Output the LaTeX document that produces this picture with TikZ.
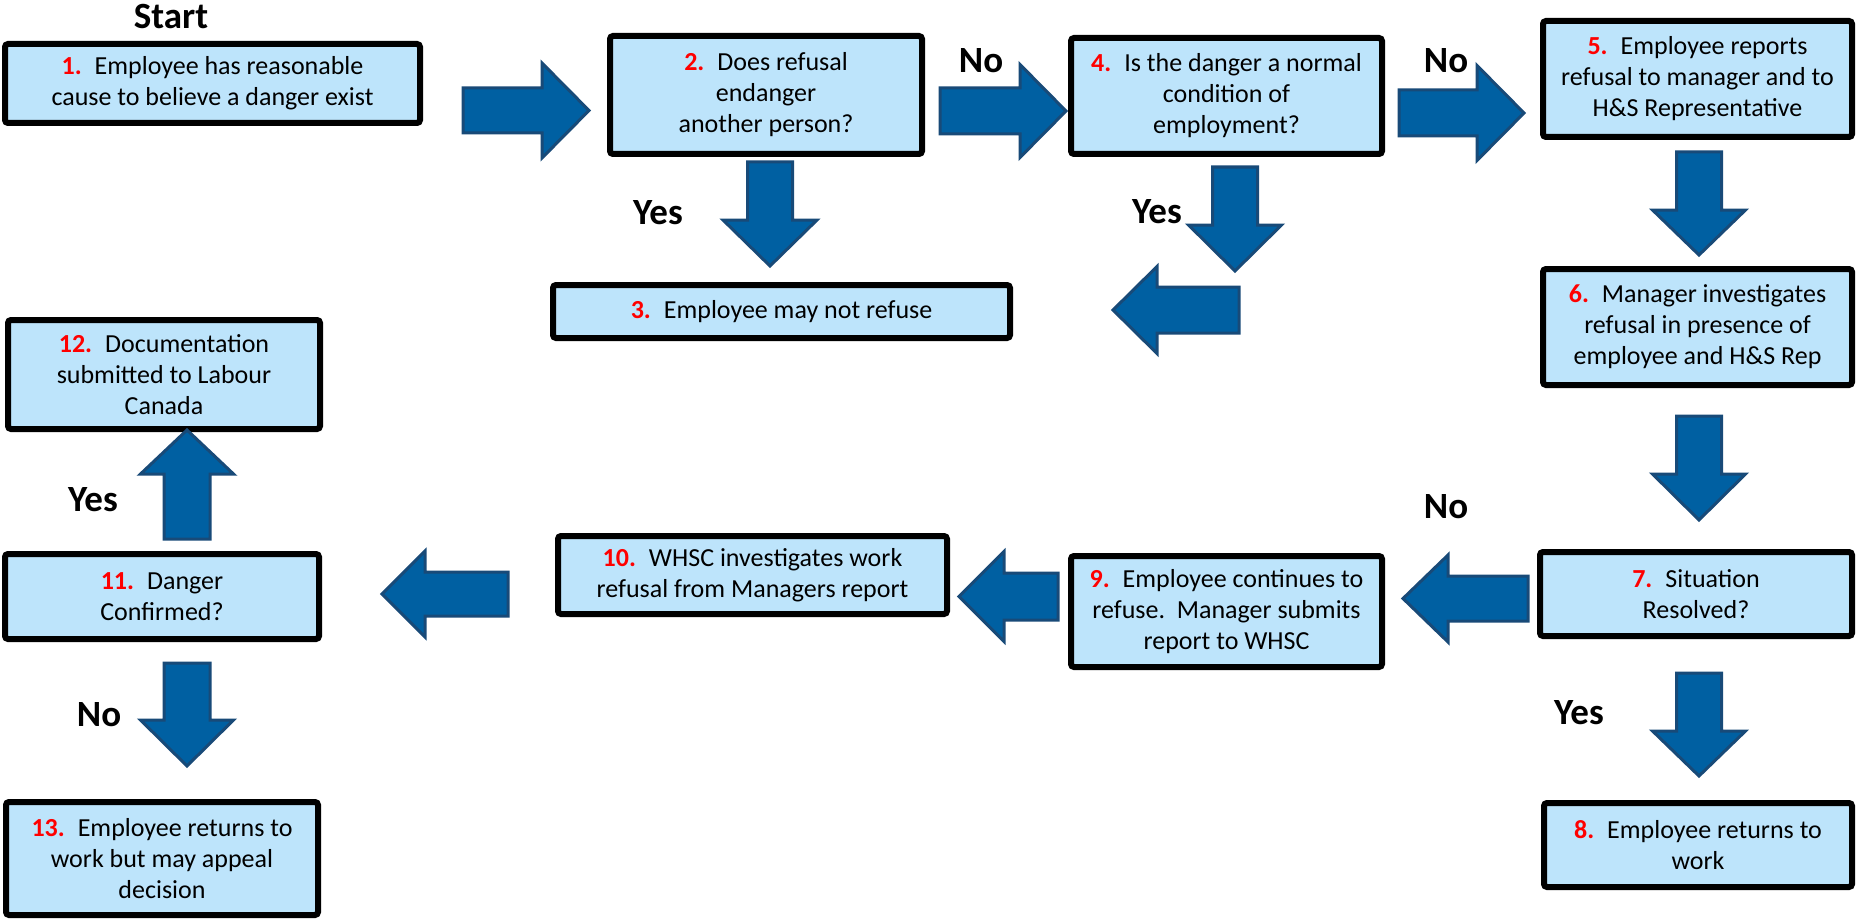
\documentclass[tikz,border=0pt]{standalone}
\usepackage{fontspec}
\setmainfont{Carlito}
\definecolor{boxblue}{RGB}{189,228,251}
\definecolor{arrowblue}{RGB}{0,96,162}
\definecolor{arrowdark}{RGB}{24,74,120}
\definecolor{numred}{RGB}{255,0,0}
\tikzset{
  flow/.style={draw=black, line width=3pt, fill=boxblue, rounded corners=1.5pt,
    inner sep=0pt, align=center, font=\fontsize{13pt}{15.5pt}\selectfont},
  lbl/.style={anchor=base, inner sep=0pt, font=\fontsize{18.5pt}{22pt}\selectfont\bfseries},
  barrow/.style={fill=arrowblue, draw=arrowdark, line width=1.5pt, line join=miter}
}
\newcommand\stepnum[1]{\textcolor{numred}{\textbf{#1}}\hspace{0.5em}}
% name, left, top, right, bottom, text
\newcommand\flowbox[6]{\node[flow, minimum width={(#4-#2-6)*0.5pt}, minimum height={(#5-#3-6)*0.5pt}] (#1) at ({(#2+#4)/2},{(#3+#5)/2}) {#6};}
% x, y (tail centre), angle, length, shaft width, head width, head length
\newcommand\blockarrow[7]{\draw[barrow, shift={(#1,#2)}, rotate=#3] (0,{-#5/2}) -- ({#4-#7},{-#5/2}) -- ({#4-#7},{-#6/2}) -- (#4,0) -- ({#4-#7},{#6/2}) -- ({#4-#7},{#5/2}) -- (0,{#5/2}) -- cycle;}
\begin{document}
\begin{tikzpicture}[x=0.5pt,y=-0.5pt]
\useasboundingbox (0,0) rectangle (1858,920);
% boxes
\flowbox{b1}{2}{41}{423}{126}{\stepnum{1.}Employee has reasonable\\cause to believe a danger exist}
\flowbox{b2}{607}{33}{925}{157}{\stepnum{2.}Does refusal\\endanger\\another person?}
\flowbox{b3}{550}{282}{1013}{341}{\stepnum{3.}Employee may not refuse}
\flowbox{b4}{1068}{35}{1385}{157}{\stepnum{4.}Is the danger a normal\\condition of\\employment?}
\flowbox{b5}{1540}{18}{1855}{140}{\stepnum{5.}Employee reports\\refusal to manager and to\\H\&S Representative}
\flowbox{b6}{1540}{266}{1855}{388}{\stepnum{6.}Manager investigates\\refusal in presence of\\employee and H\&S Rep}
\flowbox{b7}{1537}{549}{1855}{639}{\stepnum{7.}Situation\\Resolved?}
\flowbox{b8}{1541}{800}{1855}{890}{\stepnum{8.}Employee returns to\\work}
\flowbox{b9}{1068}{553}{1385}{670}{\stepnum{9.}Employee continues to\\refuse.\ \ Manager submits\\report to WHSC}
\flowbox{b10}{555}{533}{950}{617}{\stepnum{10.}WHSC investigates work\\refusal from Managers report}
\flowbox{b11}{2}{551}{322}{642}{\stepnum{11.}Danger\\Confirmed?}
\flowbox{b12}{5}{317}{323}{432}{\stepnum{12.}Documentation\\submitted to Labour\\Canada}
\flowbox{b13}{3}{799}{321}{918}{\stepnum{13.}Employee returns to\\work but may appeal\\decision}
% block arrows
\blockarrow{463}{110.5}{0}{126}{45}{95}{47}
\blockarrow{940}{111}{0}{126}{46}{93}{46}
\blockarrow{1399}{113}{0}{125}{46}{95}{47}
\blockarrow{770}{162}{-90}{104}{45}{94}{46}
\blockarrow{1235}{167}{-90}{104}{45}{93}{46}
\blockarrow{1239}{310}{180}{126}{46}{87}{44}
\blockarrow{1699}{152}{-90}{103}{45}{93}{45}
\blockarrow{1699}{416}{-90}{104}{45}{93}{46}
\blockarrow{1528}{598.5}{180}{125}{45}{87}{45}
\blockarrow{1699}{673}{-90}{103}{45}{93}{45}
\blockarrow{1058}{596.5}{180}{99}{47}{90}{45}
\blockarrow{508}{594}{180}{126}{44}{86}{43}
\blockarrow{187}{539}{90}{109}{46}{93}{44}
\blockarrow{187}{663}{-90}{103}{46}{93}{46}
% labels
\node[lbl] (start) at (171,29) {Start};
\node[lbl] (no1) at (981,73) {No};
\node[lbl] (no2) at (1446,73) {No};
\node[lbl] (yes1) at (658,224) {Yes};
\node[lbl] (yes2) at (1157,223) {Yes};
\node[lbl] (no3) at (1446,518) {No};
\node[lbl] (yes3) at (1579,724) {Yes};
\node[lbl] (yes4) at (93,511) {Yes};
\node[lbl] (no4) at (99,726) {No};
\end{tikzpicture}
\end{document}
